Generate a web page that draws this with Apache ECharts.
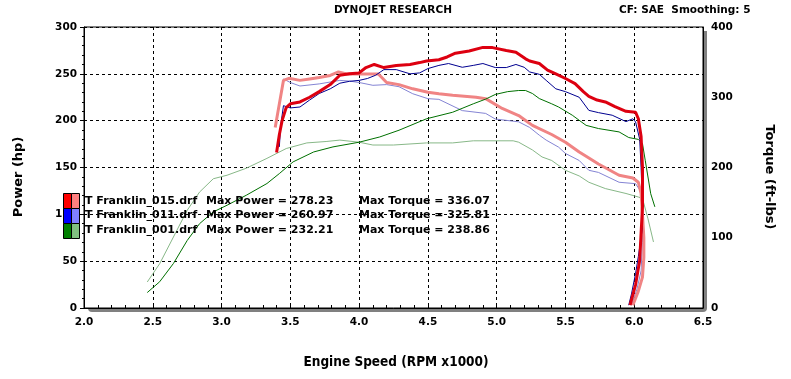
<!DOCTYPE html>
<html><head><meta charset="utf-8">
<script src="https://cdn.jsdelivr.net/npm/echarts@6/dist/echarts.min.js"></script>
<style>html,body{margin:0;padding:0;background:#fff}#c{width:791px;height:379px}</style>
</head><body><div id="c"></div><script>
// ---- data (rpm x1000, value) ----
const runNames = ['T Franklin_015.drf', 'T Franklin_011.drf', 'T Franklin_001.drf'];
const maxPower = [278.23, 260.97, 232.21];
const maxTorque = [336.07, 325.81, 238.86];

const power015 = [[3.40,166],[3.42,185],[3.44,200],[3.47,214],[3.50,218],[3.57,220],[3.64,225],[3.71,231],[3.79,238.5],[3.86,248.5],[3.93,250],[4.00,251],[4.05,256.7],[4.11,260],[4.18,256.7],[4.27,259],[4.37,260],[4.44,262],[4.49,263.7],[4.58,265],[4.64,268],[4.70,272],[4.80,274.4],[4.90,278.2],[4.97,278],[5.07,275],[5.14,273],[5.21,266],[5.24,263.7],[5.31,261],[5.37,254],[5.43,250],[5.50,245],[5.57,239.6],[5.63,231],[5.67,226],[5.73,222],[5.79,220],[5.86,215],[5.94,210],[6.01,209],[6.03,202],[6.05,183],[6.06,150],[6.06,108],[6.05,80],[6.04,51],[6.01,25],[5.97,3]];
const power011 = [[3.42,172],[3.43,195],[3.45,216],[3.50,213.6],[3.57,214.6],[3.64,222],[3.71,229],[3.79,234],[3.86,240],[3.93,242],[4.00,243],[4.06,245],[4.12,248.5],[4.18,254.5],[4.27,254.5],[4.37,250],[4.44,251],[4.50,255.6],[4.58,259],[4.65,261],[4.75,257],[4.83,259],[4.90,261],[4.99,256.7],[5.07,256.7],[5.14,260],[5.20,257],[5.24,252],[5.31,249.5],[5.36,243],[5.43,234],[5.50,231],[5.60,225],[5.67,211],[5.74,208.6],[5.84,205.8],[5.94,199],[5.99,202],[6.01,198.6],[6.04,180],[6.05,150],[6.06,110],[6.06,86],[6.03,55],[6.01,37],[5.98,15],[5.96,3]];
const power001 = [[2.46,16.5],[2.55,28],[2.65,47.5],[2.75,72],[2.84,90],[2.94,102.6],[3.04,109.7],[3.18,120.4],[3.33,132.9],[3.42,143.5],[3.52,156],[3.67,166.6],[3.81,172],[4.00,177],[4.15,182.6],[4.29,189.8],[4.49,202],[4.68,209],[4.83,218],[4.92,223],[4.99,228],[5.08,231],[5.16,232.2],[5.21,232.2],[5.26,229],[5.31,223.6],[5.40,218],[5.45,214.6],[5.55,205.8],[5.65,195],[5.74,191.6],[5.89,188],[5.96,182],[6.03,180],[6.06,175.5],[6.08,157.7],[6.12,122],[6.15,108]];

const torque015 = [[3.39,257],[3.45,324],[3.49,327],[3.57,324],[3.64,326],[3.71,328],[3.79,331],[3.85,336],[3.91,333],[4.00,333],[4.14,333],[4.20,321],[4.29,318],[4.39,312],[4.50,307],[4.58,305],[4.68,303],[4.85,300],[4.92,298],[5.04,284],[5.16,274],[5.21,267],[5.26,260],[5.40,247],[5.50,236],[5.60,222],[5.65,216],[5.74,205],[5.89,189],[5.99,185],[6.03,179],[6.05,163],[6.06,133],[6.07,100],[6.07,72],[6.06,44],[6.03,24],[5.99,4]];
const torque011 = [[3.43,305],[3.45,326],[3.50,321],[3.57,316],[3.71,319],[3.86,324],[3.93,323],[4.00,321],[4.10,317],[4.20,318],[4.29,315],[4.39,305],[4.50,298],[4.58,297],[4.75,281],[4.92,277],[4.99,269],[5.16,265],[5.24,257],[5.31,246],[5.36,239],[5.45,229],[5.50,220],[5.60,210],[5.67,196],[5.74,193],[5.89,179],[6.01,177],[6.05,165],[6.06,133],[6.06,93],[6.05,53],[6.02,27],[5.98,4]];
const torque001 = [[2.46,37],[2.55,63],[2.65,101],[2.75,139],[2.84,165],[2.94,184],[3.04,189],[3.18,199],[3.33,213],[3.47,227],[3.62,235],[3.76,237],[3.86,239],[4.00,236],[4.10,232],[4.25,232],[4.49,235],[4.68,235],[4.83,238],[5.12,238],[5.16,236],[5.26,225],[5.33,215],[5.40,210],[5.50,196],[5.60,188],[5.67,179],[5.79,170],[5.94,163],[6.03,158],[6.06,156],[6.10,127],[6.14,94]];

const xTickFmt = v => v.toFixed(1);

const chart = echarts.init(document.getElementById('c'), null, {renderer:'canvas'});
const FF = '"DejaVu Sans", Verdana, sans-serif';
const lbl = {color:'#000', fontWeight:'bold', fontSize:10.5, fontFamily:FF};

function line(name, data, color, width, yIdx, z){
  return {name, type:'line', data, yAxisIndex:yIdx, showSymbol:false, symbol:'none',
    smooth:false, animation:false, z, lineStyle:{color, width}, silent:true};
}

const legendColors = [['#ff0000','#ff8080'],['#0000ff','#8080ff'],['#008000','#80c080']];
const rowY = [201, 215.5, 230];
const graphics = [
  // frame shadow (decoration behind the plot area)
  {type:'rect', z:-10, silent:true, shape:{x:88, y:31, width:619, height:281, r:[0,0,4,4]}, style:{fill:'#808080'}},
  {type:'text', x:393, y:10, style:{text:'DYNOJET RESEARCH', align:'center', verticalAlign:'middle', fontSize:10.5, fontWeight:'bold', fontFamily:FF, fill:'#000'}},
  {type:'text', x:619, y:10, style:{text:'CF: SAE  Smoothing: 5', align:'left', verticalAlign:'middle', fontSize:10.5, fontWeight:'bold', fontFamily:FF, fill:'#000'}},
  {type:'text', x:19, y:177, rotation:Math.PI/2, style:{text:'Power (hp)', align:'center', verticalAlign:'middle', fontSize:13, fontWeight:'bold', fontFamily:FF, fill:'#000'}},
  {type:'text', x:769, y:177, rotation:-Math.PI/2, style:{text:'Torque (ft-lbs)', align:'center', verticalAlign:'middle', fontSize:13, fontWeight:'bold', fontFamily:FF, fill:'#000'}},
  {type:'text', x:396, y:362, style:{text:'Engine Speed (RPM x1000)', align:'center', verticalAlign:'middle', fontSize:13.5, fontWeight:'bold', fontFamily:'"DejaVu Sans Condensed", "DejaVu Sans", sans-serif', fill:'#000'}}
];
runNames.forEach((n,i)=>{
  const top = 193 + i*15;
  graphics.push({type:'rect', z:100, shape:{x:63.5, y:top+0.5, width:8, height:15}, style:{fill:legendColors[i][0], stroke:'#000', lineWidth:1}});
  graphics.push({type:'rect', z:100, shape:{x:71.5, y:top+0.5, width:8, height:15}, style:{fill:legendColors[i][1], stroke:'#000', lineWidth:1}});
  const st = {align:'left', verticalAlign:'middle', fontSize:11, fontWeight:'bold', fontFamily:FF, fill:'#000'};
  graphics.push({type:'text', z:100, x:85, y:rowY[i], style:Object.assign({text:n}, st)});
  graphics.push({type:'text', z:100, x:206, y:rowY[i], style:Object.assign({text:'Max Power = ' + maxPower[i].toFixed(2)}, st)});
  graphics.push({type:'text', z:100, x:359, y:rowY[i], style:Object.assign({text:'Max Torque = ' + maxTorque[i].toFixed(2)}, st)});
});

chart.setOption({
  animation:false,
  backgroundColor:'#fff',
  grid:{left:84, top:27, width:619, height:281, show:true, borderColor:'#000', borderWidth:1,
    backgroundColor:'#fff'},
  xAxis:{type:'value', min:2, max:6.5, interval:0.5,
    axisLine:{show:true, lineStyle:{color:'#000', width:1}},
    axisTick:{show:true, inside:true, length:5, lineStyle:{color:'#000'}},
    minorTick:{show:true, splitNumber:5, length:3, lineStyle:{color:'#000'}},
    axisLabel:Object.assign({formatter:xTickFmt, margin:9}, lbl),
    splitLine:{show:true, lineStyle:{color:'#000', type:[3,3], width:1}}},
  yAxis:[
    {type:'value', min:0, max:300, interval:50, position:'left',
      axisLine:{show:true, lineStyle:{color:'#000'}},
      axisTick:{show:true, length:4, lineStyle:{color:'#000'}},
      minorTick:{show:true, splitNumber:5, length:2, lineStyle:{color:'#000'}},
      axisLabel:Object.assign({margin:7}, lbl),
      splitLine:{show:true, lineStyle:{color:'#000', type:[3,3], width:1}}},
    {type:'value', min:0, max:400, interval:100, position:'right',
      axisLine:{show:true, lineStyle:{color:'#000'}},
      axisTick:{show:false},
      axisLabel:Object.assign({margin:8}, lbl),
      splitLine:{show:false}}
  ],
  series:[
    line('Torque 001', torque001, '#88b888', 1, 1, 2),
    line('Torque 011', torque011, '#8484d4', 1, 1, 3),
    line('Torque 015', torque015, '#f08484', 3, 1, 4),
    line('Power 001', power001, '#007000', 1, 0, 5),
    line('Power 011', power011, '#000090', 1, 0, 6),
    line('Power 015', power015, '#dd0010', 3, 0, 7)
  ],
  graphic:graphics
});
</script></body></html>
